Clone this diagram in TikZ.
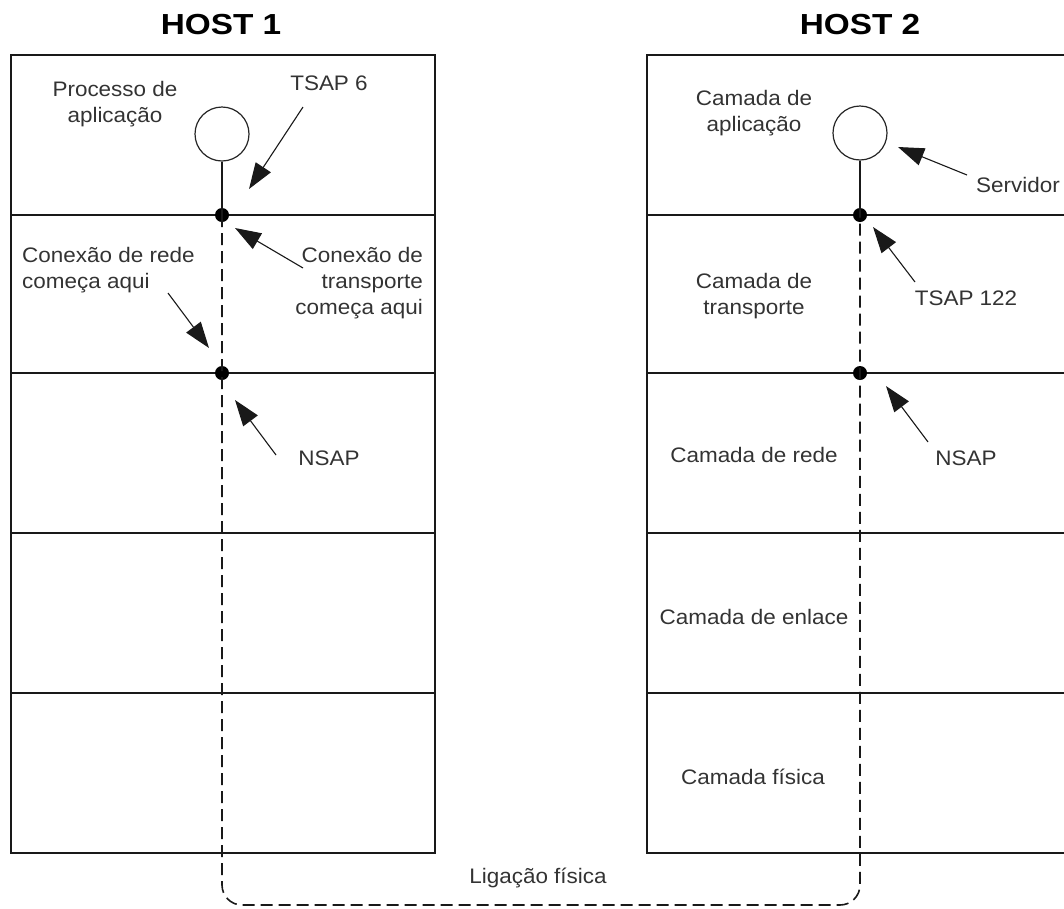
\documentclass[tikz,border=0pt]{standalone}
\usepackage{fontspec}
\setmainfont{Liberation Sans}[FakeStretch=1.07]
\newfontfamily\hostfont{Liberation Sans}[FakeStretch=1.15]
\usetikzlibrary{arrows.meta}
\begin{document}
\begin{tikzpicture}[x=1pt,y=-1pt,
  frame/.style={draw=black!90,line width=1.6pt},
  link/.style={draw=black!90,line width=1.6pt,dash pattern=on 12pt off 6pt},
  proc/.style={draw=black!85,line width=1.2pt,circle,minimum size=54pt,inner sep=0pt},
  sap/.style={fill=black,circle,minimum size=14pt,inner sep=0pt},
  lbl/.style={text=black!80,font=\fontsize{21}{26}\selectfont,inner sep=0pt},
  host/.style={text=black,font=\hostfont\bfseries\fontsize{29}{34}\selectfont,inner sep=0pt},
  pointer/.style={draw=black!90,line width=1.1pt,-{Triangle[length=26pt,width=18pt]}}]
\useasboundingbox (0,0) rectangle (1064,908);

% host frames and layer separators
\draw[frame] (11,55) rectangle (435,853);
\foreach \y in {215,373,533,693} \draw[frame] (11,\y) -- (435,\y);
\draw[frame] (1064,55) -- (647,55) -- (647,853) -- (1064,853);
\foreach \y in {215,373,533,693} \draw[frame] (647,\y) -- (1064,\y);

% titles
\node[host] (h1) at (221,25) {HOST 1};
\node[host] (h2) at (860,25) {HOST 2};

% processes and service access points
\node[proc] (p1) at (222,134) {};
\node[proc] (p2) at (860,133) {};
\node[sap] (t1) at (222,215) {};
\node[sap] (n1) at (222,373) {};
\node[sap] (t2) at (860,215) {};
\node[sap] (n2) at (860,373) {};
\draw[frame] (p1.south) -- (t1.center);
\draw[frame] (p2.south) -- (t2.center);

% physical link between the hosts
\draw[link,rounded corners=20pt] (t1.center) -- (222,905) -- (860,905) -- (t2.center);

% host 1 labels
\node[lbl,align=center] (proc1) at (115,104) {Processo de\\aplicação};
\node[lbl] (tsap6) at (329,83) {TSAP 6};
\node[lbl,align=left,anchor=west] (rede1) at (22,270) {Conexão de rede\\começa aqui};
\node[lbl,align=right,anchor=east] (transp1) at (423,283) {Conexão de\\transporte\\começa aqui};
\node[lbl] (nsap1) at (329,458) {NSAP};

% host 2 labels
\node[lbl,align=center] (app2) at (754,113) {Camada de\\aplicação};
\node[lbl] (serv) at (1018,185) {Servidor};
\node[lbl,align=center] (transp2) at (754,296) {Camada de\\transporte};
\node[lbl] (tsap122) at (966,298) {TSAP 122};
\node[lbl] (rede2) at (754,455) {Camada de rede};
\node[lbl] (nsap2) at (966,458) {NSAP};
\node[lbl] (enl2) at (754,617) {Camada de enlace};
\node[lbl] (fis2) at (753,777) {Camada física};
\node[lbl] (lig) at (538,878) {Ligação física};

% pointer arrows
\coordinate (a1s) at (303,107); \coordinate (a1e) at (249,189);
\coordinate (a2s) at (303,268); \coordinate (a2e) at (235,228);
\coordinate (a3s) at (168,293); \coordinate (a3e) at (209,348);
\coordinate (a4s) at (276,455); \coordinate (a4e) at (235,400);
\coordinate (b1s) at (967,175); \coordinate (b1e) at (898,147);
\coordinate (b2s) at (915,282); \coordinate (b2e) at (873,227);
\coordinate (b3s) at (928,442); \coordinate (b3e) at (886,386);
\draw[pointer] (a1s) -- (a1e);
\draw[pointer] (a2s) -- (a2e);
\draw[pointer] (a3s) -- (a3e);
\draw[pointer] (a4s) -- (a4e);
\draw[pointer] (b1s) -- (b1e);
\draw[pointer] (b2s) -- (b2e);
\draw[pointer] (b3s) -- (b3e);
\end{tikzpicture}
\end{document}
